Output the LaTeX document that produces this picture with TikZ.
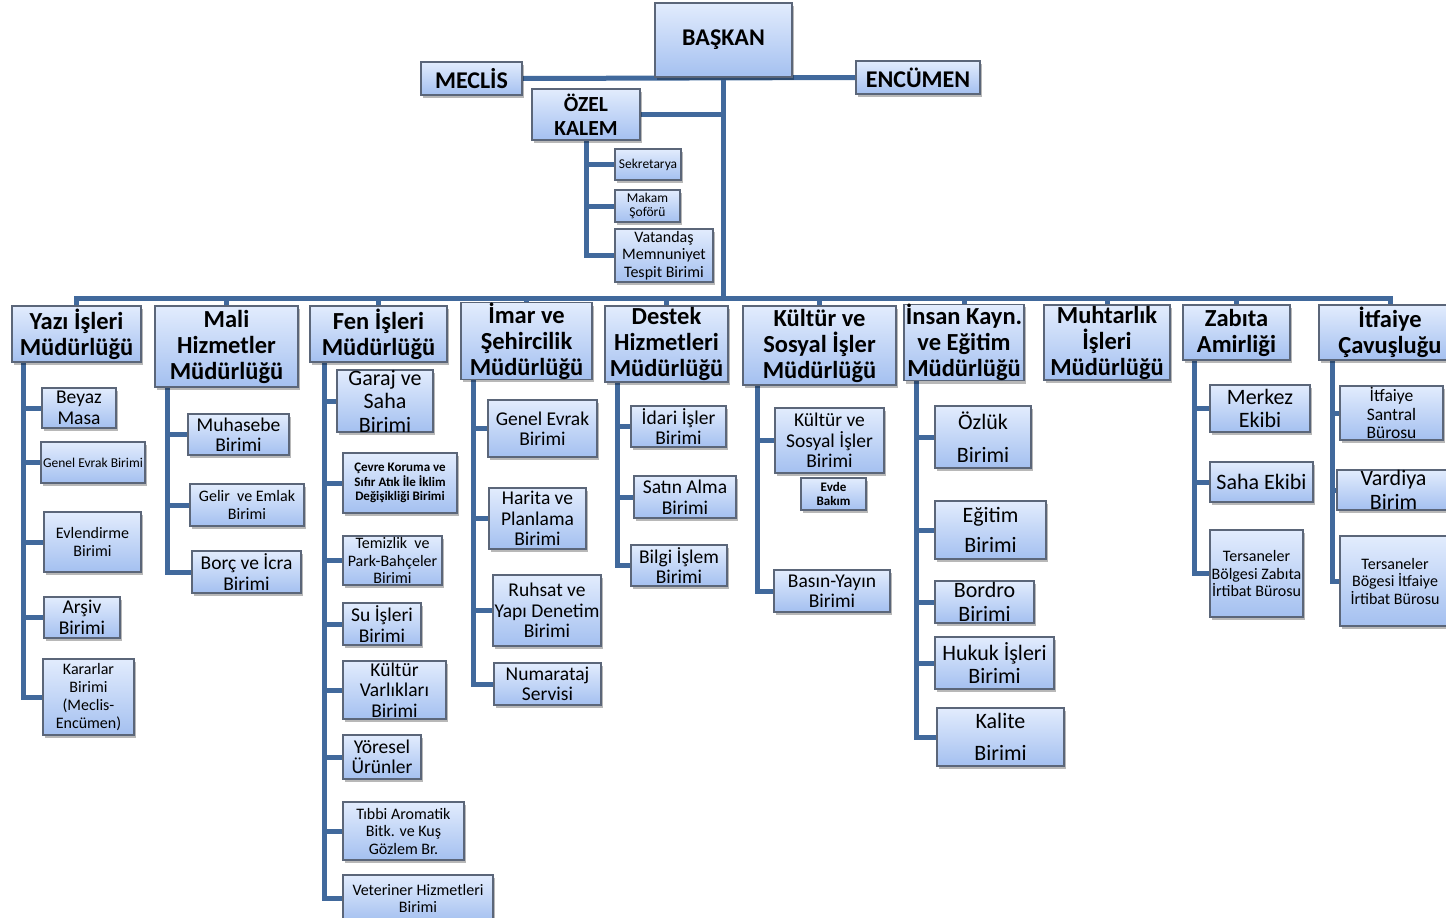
\documentclass[tikz,border=0pt]{standalone}
\usepackage{fontspec}
\setmainfont{Carlito}
\usetikzlibrary{shadows}
\definecolor{conncol}{HTML}{41699C}
\definecolor{boxline}{HTML}{5B6679}
\definecolor{boxtop}{HTML}{E2ECFD}
\definecolor{boxbot}{HTML}{A4C0F0}
\pgfdeclarelayer{back}
\pgfdeclarelayer{bg}
\pgfsetlayers{back,bg,main}
\newcommand\ubox[7]{%
  \pgfmathsetmacro\bcx{(#2+#4)/2}\pgfmathsetmacro\bcy{(#3+#5)/2}%
  \pgfmathsetmacro\bw{#4-#2}\pgfmathsetmacro\bh{#5-#3}%
  \node[box,#6,minimum width=\bw pt,minimum height=\bh pt] (#1) at (\bcx,\bcy) {#7};}
\begin{document}
\begin{tikzpicture}[x=1pt,y=-1pt,
  box/.style={draw=boxline, line width=1.3pt, top color=boxtop, bottom color=boxbot,
    align=center, inner sep=0pt,
    drop shadow={shadow xshift=2pt, shadow yshift=-3pt, fill=black, opacity=0.28}},
  conn/.style={draw=conncol, line width=5pt, line join=miter},
  hd/.style={font=\bfseries\fontsize{24.5}{26}\selectfont},
  tp/.style={font=\bfseries\fontsize{24}{26}\selectfont},
  fa/.style={font=\fontsize{19.5}{20.5}\selectfont},
  fb/.style={font=\fontsize{22}{23.5}\selectfont},
  fc/.style={font=\fontsize{16}{18}\selectfont},
  fcc/.style={font=\fontsize{17.5}{18.5}\selectfont},
  fd/.style={font=\fontsize{16}{17.5}\selectfont},
  fe/.style={font=\fontsize{13.5}{14.5}\selectfont},
  fs/.style={font=\bfseries\fontsize{13}{14.5}\selectfont}]
\begin{pgfonlayer}{back}
\fill[white] (0,0) rectangle (1446,918);
\end{pgfonlayer}
\useasboundingbox (0,0) rectangle (1446,918);
% top level
\ubox{baskan}{655}{3}{792}{77}{tp}{BAŞKAN}
\ubox{meclis}{421}{62}{522}{95}{tp}{MECLİS}
\ubox{encumen}{856}{61}{980}{94}{tp}{ENCÜMEN}
\ubox{ozel}{532}{89}{640}{140}{font=\bfseries\fontsize{21.5}{24}\selectfont}{ÖZEL\\KALEM}
\ubox{sekr}{615}{149}{681}{180}{fe}{Sekretarya}
\ubox{makam}{615}{190}{680}{222}{fe}{Makam\\Şoförü}
\ubox{vatan}{615}{229}{713}{282}{fd}{Vatandaş\\Memnuniyet\\Tespit Birimi}
% level 2
\ubox{yazi}{12}{306}{141}{362}{hd}{Yazı İşleri\\Müdürlüğü}
\ubox{mali}{155}{306}{298}{387}{hd}{Mali\\Hizmetler\\Müdürlüğü}
\ubox{fen}{310}{306}{447}{362}{hd}{Fen İşleri\\Müdürlüğü}
\ubox{imar}{461}{306}{592}{376}{hd}{İmar ve\\Şehircilik\\Müdürlüğü}
\ubox{destek}{605}{306}{728}{382}{hd}{Destek\\Hizmetleri\\Müdürlüğü}
\ubox{kultur}{743}{306}{896}{385}{hd}{Kültür ve\\Sosyal İşler\\Müdürlüğü}
\ubox{insan}{904}{305}{1024}{380}{hd}{İnsan Kayn.\\ve Eğitim\\Müdürlüğü}
\ubox{muhtar}{1044}{305}{1170}{380}{hd}{Muhtarlık\\İşleri\\Müdürlüğü}
\ubox{zabita}{1183}{305}{1290}{360}{hd}{Zabıta\\Amirliği}
\ubox{itfaiye}{1319}{305}{1461}{360}{hd}{İtfaiye\\Çavuşluğu}
% Yazı İşleri
\ubox{beyaz}{42}{388}{116}{428}{fa}{Beyaz\\Masa}
\ubox{genevr}{41}{442}{145}{483}{fe}{Genel Evrak Birimi}
\ubox{evlen}{44}{512}{141}{572}{fc}{Evlendirme\\Birimi}
\ubox{arsiv}{44}{597}{120}{638}{fa}{Arşiv\\Birimi}
\ubox{karar}{43}{659}{134}{735}{fc}{Kararlar\\Birimi\\(Meclis-\\Encümen)}
% Mali
\ubox{muhas}{188}{414}{289}{455}{fa}{Muhasebe\\Birimi}
\ubox{gelir}{190}{484}{304}{526}{fc}{Gelir~ ve Emlak\\Birimi}
\ubox{borc}{192}{551}{301}{593}{fa}{Borç ve İcra\\Birimi}
% Fen
\ubox{garaj}{337}{370}{433}{432}{fb}{Garaj ve\\Saha\\Birimi}
\ubox{cevre}{343}{453}{457}{513}{fs}{Çevre Koruma ve\\Sıfır Atık İle İklim\\Değişikliği Birimi}
\ubox{temiz}{343}{536}{442}{585}{fd}{Temizlik~ ve\\Park-Bahçeler\\Birimi}
\ubox{su}{343}{603}{421}{645}{fa}{Su İşleri\\Birimi}
\ubox{kvar}{343}{661}{446}{719}{fa}{Kültür\\Varlıkları\\Birimi}
\ubox{yores}{343}{735}{421}{779}{fa}{Yöresel\\Ürünler}
\ubox{tibbi}{343}{802}{464}{860}{fd}{Tıbbi Aromatik\\Bitk. ve Kuş\\Gözlem Br.}
\ubox{veter}{343}{875}{493}{922}{fd}{Veteriner Hizmetleri\\Birimi}
% İmar
\ubox{igenel}{488}{400}{597}{457}{fa}{Genel Evrak\\Birimi}
\ubox{harita}{489}{488}{586}{549}{fa}{Harita ve\\Planlama\\Birimi}
\ubox{ruhsat}{493}{575}{601}{646}{fa}{Ruhsat ve\\Yapı Denetim\\Birimi}
\ubox{numar}{494}{663}{601}{705}{fa}{Numarataj\\Servisi}
% Destek
\ubox{idari}{631}{406}{726}{447}{fa}{İdari İşler\\Birimi}
\ubox{satin}{634}{476}{736}{518}{fa}{Satın Alma\\Birimi}
\ubox{bilgi}{631}{545}{727}{586}{fa}{Bilgi İşlem\\Birimi}
% Kültür
\ubox{ksos}{775}{408}{884}{473}{fa}{Kültür ve\\Sosyal İşler\\Birimi}
\ubox{evde}{801}{478}{866}{510}{fs}{Evde\\Bakım}
\ubox{basin}{774}{570}{890}{612}{fa}{Basın-Yayın\\Birimi}
% İnsan Kaynakları
\ubox{ozluk}{935}{406}{1031}{468}{fb}{Özlük\\[9pt]Birimi}
\ubox{egitim}{935}{501}{1046}{559}{fb}{Eğitim\\[7pt]Birimi}
\ubox{bordro}{935}{581}{1034}{623}{fb}{Bordro\\Birimi}
\ubox{hukuk}{935}{637}{1054}{689}{fb}{Hukuk İşleri\\Birimi}
\ubox{kalite}{937}{708}{1064}{766}{fb}{Kalite\\[8pt]Birimi}
% Zabıta
\ubox{merkez}{1210}{385}{1310}{432}{fb}{Merkez\\Ekibi}
\ubox{saha}{1210}{462}{1313}{502}{fb}{Saha Ekibi}
\ubox{tzab}{1210}{530}{1303}{617}{fd}{Tersaneler\\Bölgesi Zabıta\\İrtibat Bürosu}
% İtfaiye
\ubox{santral}{1340}{386}{1443}{440}{fcc}{İtfaiye\\Santral\\Bürosu}
\ubox{vardiya}{1337}{470}{1450}{510}{fb}{Vardiya\\Birim}
\ubox{titf}{1340}{536}{1450}{626}{fd}{Tersaneler\\Bögesi İtfaiye\\İrtibat Bürosu}
% connectors
\begin{pgfonlayer}{bg}
\coordinate (bus) at (0,298);
\draw[conn] (meclis.east) -- (encumen.west);
\draw[conn] (baskan.south) -- (baskan.south |- bus);
\draw[conn] (ozel.east) -- (ozel.east -| baskan.south);
\foreach \n in {yazi,mali,fen,imar,destek,kultur,insan,muhtar,zabita,itfaiye}
  \draw[conn] (baskan.south |- bus) -| (\n.north);
\foreach \c in {sekr,makam,vatan} \draw[conn] (ozel.south) |- (\c.west);
\foreach \c in {beyaz,genevr,evlen,arsiv,karar} \draw[conn] ([xshift=12pt]yazi.south west) |- (\c.west);
\foreach \c in {muhas,gelir,borc} \draw[conn] ([xshift=13pt]mali.south west) |- (\c.west);
\foreach \c in {garaj,cevre,temiz,su,kvar,yores,tibbi,veter} \draw[conn] ([xshift=15pt]fen.south west) |- (\c.west);
\foreach \c in {igenel,harita,ruhsat,numar} \draw[conn] ([xshift=13pt]imar.south west) |- (\c.west);
\foreach \c in {idari,satin,bilgi} \draw[conn] ([xshift=13pt]destek.south west) |- (\c.west);
\foreach \c in {ksos,basin} \draw[conn] ([xshift=15pt]kultur.south west) |- (\c.west);
\foreach \c in {ozluk,egitim,bordro,hukuk,kalite} \draw[conn] ([xshift=13pt]insan.south west) |- (\c.west);
\foreach \c in {merkez,saha,tzab} \draw[conn] ([xshift=12pt]zabita.south west) |- (\c.west);
\foreach \c in {santral,vardiya,titf} \draw[conn] ([xshift=14pt]itfaiye.south west) |- (\c.west);
\end{pgfonlayer}
\end{tikzpicture}
\end{document}
